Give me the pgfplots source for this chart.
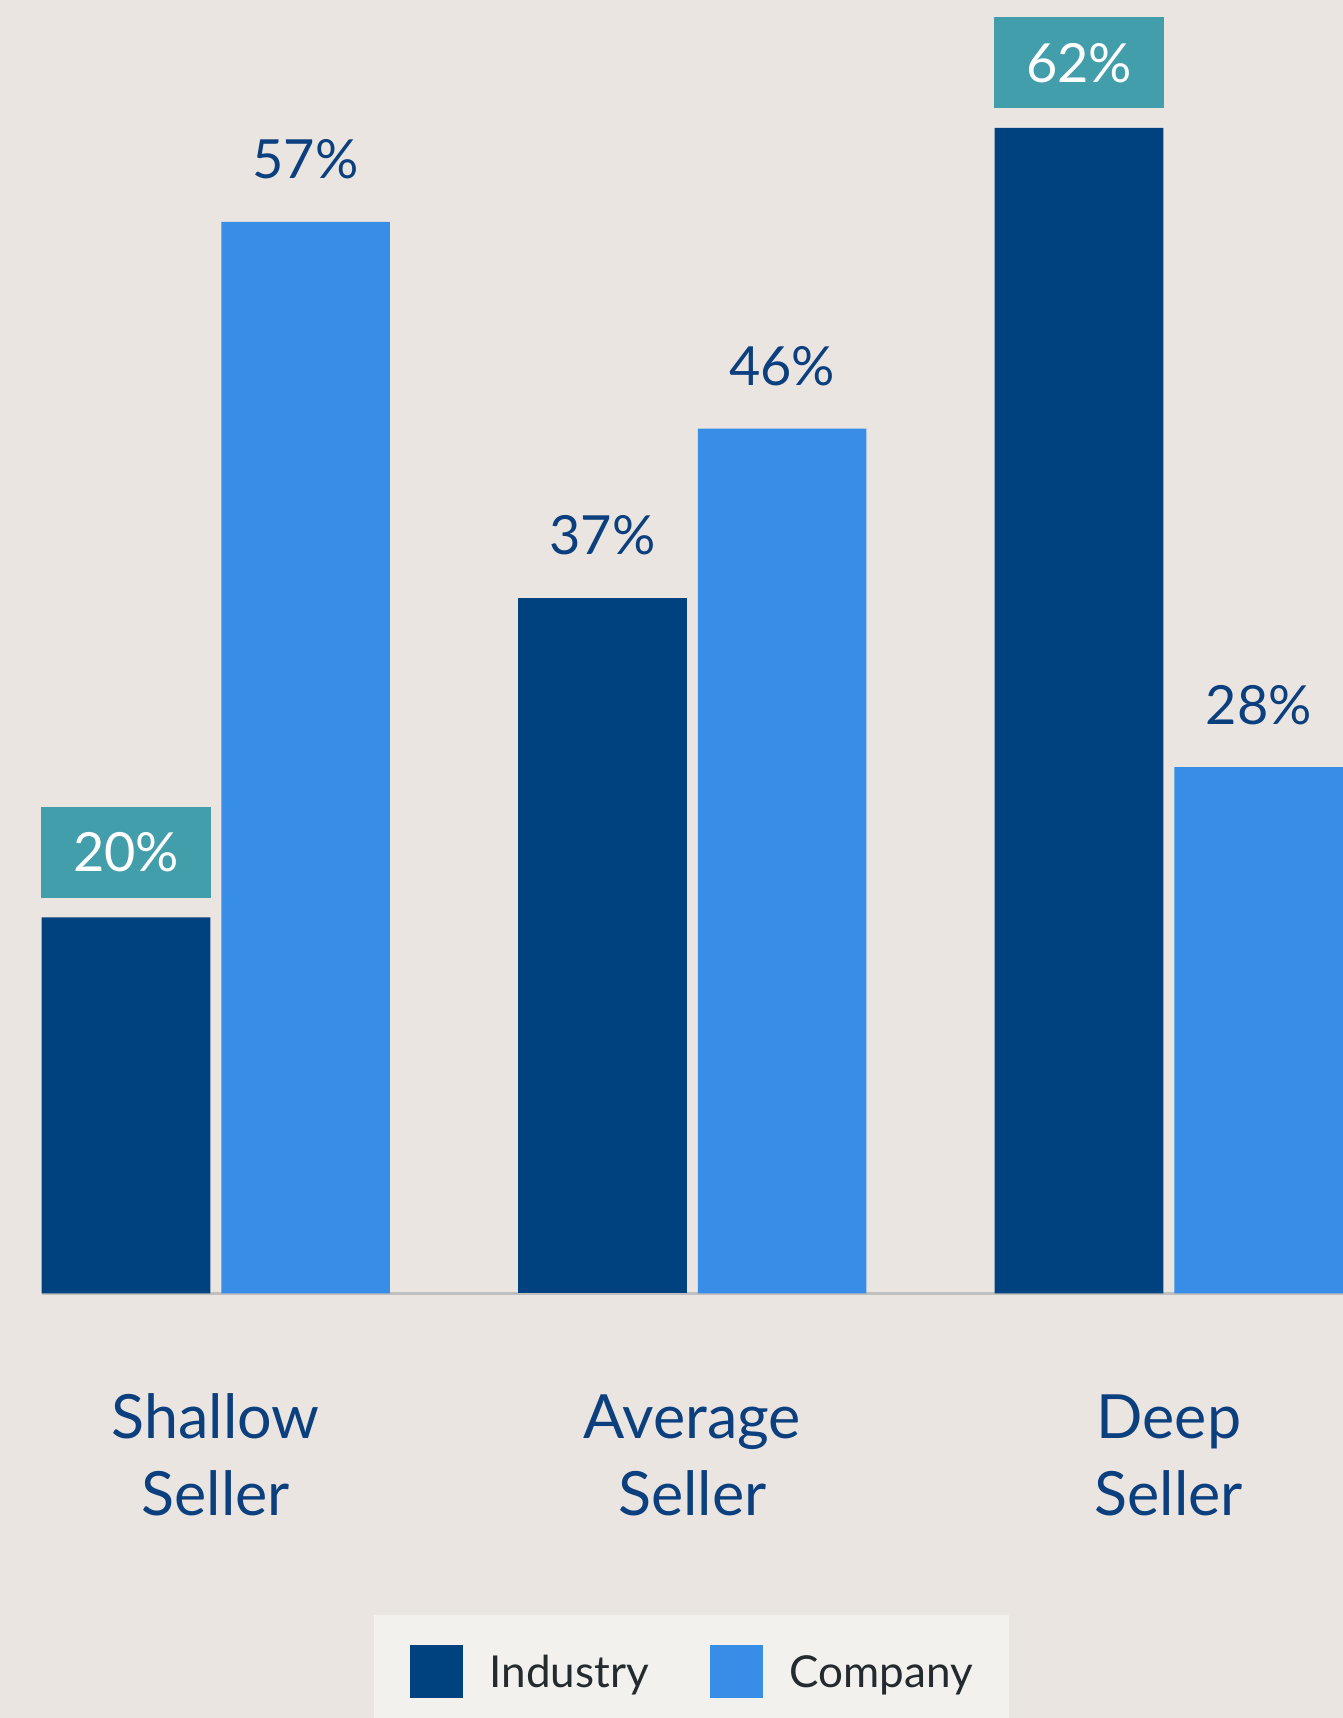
\documentclass[border=0pt]{standalone}
\usepackage{fontspec}
\setmainfont{Lato}
\usepackage{pgfplots}
\pgfplotsset{compat=1.18}

\definecolor{bg}{HTML}{EAE5E1}
\definecolor{ind}{HTML}{00427F}
\definecolor{comp}{HTML}{388EE6}
\definecolor{tealbox}{HTML}{429EAB}
\definecolor{lblue}{HTML}{0B3F7E}
\definecolor{legbg}{HTML}{F3F1EE}
\definecolor{legtext}{HTML}{232B2E}
\definecolor{axgray}{HTML}{BFBFBF}

\newcommand{\valfont}{\fontsize{27}{32}\selectfont}

\begin{document}
\begin{tikzpicture}
\path[use as bounding box] (0,0) rectangle (671.5pt,859pt);
\clip (0,0) rectangle (671.5pt,859pt);
\fill[bg] (0,0) rectangle (671.5pt,859pt);
\begin{axis}[
  at={(20.8pt,212.25pt)}, anchor=south west,
  x=238.25pt, y=9.4pt,
  xmin=-0.3656, xmax=2.3656, ymin=0, ymax=68.8,
  ybar, bar width=0.354,
  axis x line*=bottom, axis y line=none,
  x axis line style={draw=axgray, line width=1.6pt, -},
  xtick={0,1,2},
  xticklabels={{Shallow\\Seller},{Average\\Seller},{Deep\\Seller}},
  major tick length=0pt,
  xticklabel style={align=center, font=\fontsize{30.5}{38.5}\selectfont, text=lblue, anchor=base, yshift=-110.75pt},
  ytick=\empty,
  clip=false,
  /pgf/number format/assume math mode=true,
  nodes near coords={\pgfmathprintnumber{\pgfplotspointmeta}\%},
  legend columns=2,
  legend style={at={(0.4992,-0.2483)}, anchor=north, draw=none, fill=legbg,
    inner xsep=18pt, inner ysep=15pt, font=\fontsize{22}{26}\selectfont, text=legtext,
    nodes={inner sep=0pt, text height=15.8pt, text depth=0pt},
    column sep=13.5pt,
    /tikz/every even column/.append style={column sep=30.5pt}},
]
\addplot[forget plot, fill=ind, draw=none, bar shift=-0.1885,
  every node near coord/.append style={anchor=base, yshift=21.5pt, font=\valfont, text=lblue, inner sep=0pt}]
  coordinates {(1,37)};
\addplot[forget plot, fill=ind, draw=none, bar shift=-0.1885,
  every node near coord/.append style={anchor=south, yshift=9.5pt, fill=tealbox, text=white, minimum width=85pt, minimum height=45.5pt, inner sep=0pt, font=\valfont}]
  coordinates {(0,20) (2,62)};
\addplot[forget plot, fill=comp, draw=none, bar shift=0.1885,
  every node near coord/.append style={anchor=base, yshift=21.5pt, font=\valfont, text=lblue, inner sep=0pt}]
  coordinates {(0,57) (1,46) (2,28)};
\addlegendimage{legend image code/.code={\fill[ind] (0pt,-13pt) rectangle (26pt,13pt);}}
\addlegendentry{Industry}
\addlegendimage{legend image code/.code={\fill[comp] (0pt,-13pt) rectangle (26pt,13pt);}}
\addlegendentry{Company}
\end{axis}
\end{tikzpicture}
\end{document}
